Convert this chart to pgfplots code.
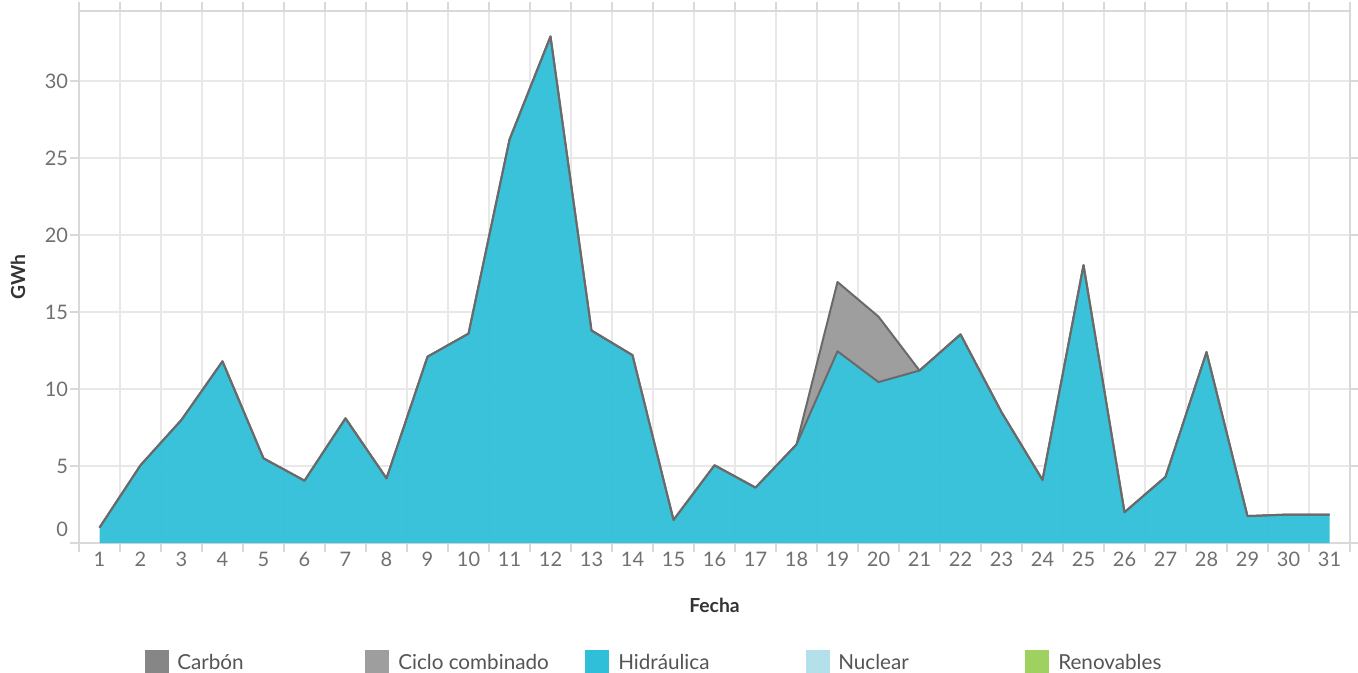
\documentclass[border=0pt]{standalone}
\usepackage{fontspec}
\setmainfont{Lato}
\usepackage{pgfplots}
\pgfplotsset{compat=1.18}
\usepackage{pgfplotstable}
\usepgfplotslibrary{fillbetween}

\definecolor{hydro}{HTML}{2FBFD8}
\definecolor{ciclo}{HTML}{9E9E9E}
\definecolor{carbon}{HTML}{868686}
\definecolor{nuclear}{HTML}{B3E0EB}
\definecolor{renov}{HTML}{9FD160}
\definecolor{linecol}{HTML}{6A6A6A}
\definecolor{gridcol}{HTML}{E8E8E8}
\definecolor{bordercol}{HTML}{D9D9D9}
\definecolor{tickcol}{HTML}{707070}
\definecolor{labelcol}{HTML}{333333}
\definecolor{legtext}{HTML}{555555}

\pgfplotstableread{
d hydro ciclo
1 1.0 0
2 5.05 0
3 8.0 0
4 11.8 0
5 5.5 0
6 4.05 0
7 8.1 0
8 4.2 0
9 12.1 0
10 13.6 0
11 26.2 0
12 32.9 0
13 13.8 0
14 12.2 0
15 1.5 0
16 5.05 0
17 3.6 0
18 6.4 0
19 12.45 4.5
20 10.45 4.25
21 11.2 0
22 13.55 0
23 8.5 0
24 4.1 0
25 18.05 0
26 2.0 0
27 4.3 0
28 12.4 0
29 1.75 0
30 1.85 0
31 1.85 0
}\datatable

\begin{document}
\begin{tikzpicture}[x=0.75pt,y=0.75pt]
\begin{axis}[
  at={(0,0)}, anchor=south west,
  scale only axis, width=953.25pt, height=399pt,
  xmin=0.5, xmax=31.5, ymin=0, ymax=34.55,
  axis line style={draw=bordercol, line width=0.9pt},
  tick align=outside,
  major tick length=6.75pt,
  tick style={draw=bordercol, line width=0.9pt},
  xtick={0.5,1.5,...,31.5}, xticklabels={},
  xmajorgrids, ymajorgrids,
  major grid style={draw=gridcol, line width=1.1pt},
  extra x ticks={1,2,...,31},
  extra x tick labels={1,2,3,4,5,6,7,8,9,10,11,12,13,14,15,16,17,18,19,20,21,22,23,24,25,26,27,28,29,30,31},
  extra x tick style={grid=none, major tick length=0pt, tick style={draw=none},
     xticklabel style={yshift=-3pt}},
  ytick={5,10,...,30},
  extra y ticks={0},
  extra y tick style={grid=none, yticklabel style={yshift=10.5pt}},
  /pgf/number format/assume math mode=true,
  tick label style={font=\fontsize{15}{17}\selectfont, text=tickcol},
  yticklabel style={xshift=2pt},
  xlabel={Fecha}, ylabel={GWh},
  every axis x label/.style={at={(axis description cs:0.5,-0.1165)}, anchor=center,
     font=\fontsize{14.5}{16}\selectfont\bfseries, text=labelcol},
  every axis y label/.style={at={(axis description cs:-0.048,0.5)}, anchor=center, rotate=90,
     font=\fontsize{14.5}{16}\selectfont\bfseries, text=labelcol},
  clip=false,
]
\addplot[draw=none, fill=hydro, fill opacity=0.95] table[x=d, y=hydro] {\datatable} \closedcycle;
\addplot[draw=none, name path=hline, forget plot] table[x=d, y=hydro] {\datatable};
\addplot[draw=none, name path=tline, forget plot] table[x=d, y expr=\thisrow{hydro}+\thisrow{ciclo}] {\datatable};
\addplot[fill=ciclo, draw=none] fill between[of=tline and hline];
\addplot[draw=linecol, line width=1.5pt, line join=round] table[x=d, y=hydro] {\datatable};
\addplot[draw=linecol, line width=1.5pt, line join=round] table[x=d, y expr=\thisrow{hydro}+\thisrow{ciclo}] {\datatable};
\end{axis}
% legend
\fill[carbon] (66,-107) rectangle (90,-140);
\node[anchor=base west, inner sep=0, text=legtext, font=\fontsize{15.5}{18}\selectfont] at (98,-126.5) {Carbón};
\fill[ciclo] (286,-107) rectangle (310,-140);
\node[anchor=base west, inner sep=0, text=legtext, font=\fontsize{15.5}{18}\selectfont] at (319,-126.5) {Ciclo combinado};
\fill[hydro] (506,-107) rectangle (530,-140);
\node[anchor=base west, inner sep=0, text=legtext, font=\fontsize{15.5}{18}\selectfont] at (539,-126.5) {Hidráulica};
\fill[nuclear] (727,-107) rectangle (751,-140);
\node[anchor=base west, inner sep=0, text=legtext, font=\fontsize{15.5}{18}\selectfont] at (759,-126.5) {Nuclear};
\fill[renov] (946,-107) rectangle (970,-140);
\node[anchor=base west, inner sep=0, text=legtext, font=\fontsize{15.5}{18}\selectfont] at (979,-126.5) {Renovables};
\pgfresetboundingbox
\path[use as bounding box] (-79,-129) rectangle (1279,543);
\end{tikzpicture}
\end{document}
